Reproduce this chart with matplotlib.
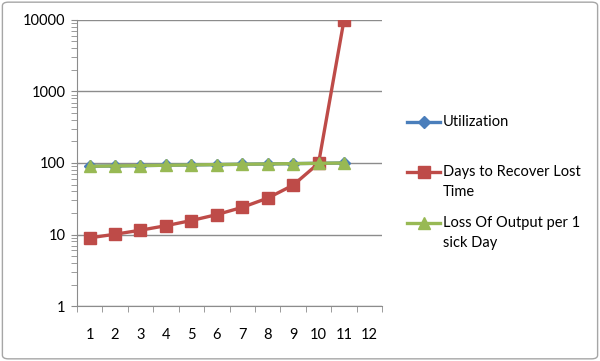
import matplotlib
matplotlib.use('Agg')
import matplotlib.pyplot as plt
from matplotlib.lines import Line2D
from matplotlib.patches import FancyBboxPatch
from matplotlib.ticker import LogLocator, FixedLocator, NullFormatter

# data
periods = [1, 2, 3, 4, 5, 6, 7, 8, 9, 10, 11]
x_labels = ['1', '2', '3', '4', '5', '6', '7', '8', '9', '10', '11', '12']
y_ticks = [1, 10, 100, 1000, 10000]
y_labels = ['1', '10', '100', '1000', '10000']
utilization = [90, 91, 92, 93, 94, 95, 96, 97, 98, 99, 99.99]
days_to_recover = [9, 10.1, 11.5, 13.3, 15.7, 19, 24, 32.3, 49, 99, 9999]
loss_of_output = [90, 91, 92, 93, 94, 95, 96, 97, 98, 99, 99.99]

series = [
    (utilization, ['Utilization'], '#4a7ebb', 'D', 6),
    (days_to_recover, ['Days to Recover Lost', 'Time'], '#be4b48', 's', 8),
    (loss_of_output, ['Loss Of Output per 1', 'sick Day'], '#98b954', '^', 8),
]

plt.rcParams['font.family'] = ['Lato', 'DejaVu Sans']

fig = plt.figure(figsize=(6.0, 3.61), dpi=100)
ax = fig.add_axes([0.128, 0.152, 0.509, 0.793])

# outer chart border
fig.patches.append(FancyBboxPatch((0.004, 0.006), 0.992, 0.988,
                                  boxstyle='round,pad=0,rounding_size=0.01',
                                  transform=fig.transFigure, fill=False,
                                  edgecolor='#a6a6a6', linewidth=1.0))

for i, (vals, label, color, marker, ms) in enumerate(series):
    ax.plot(periods, vals, color=color, lw=2.4, marker=marker,
            markersize=ms, zorder=3 + i)

ax.set_yscale('log')
ax.set_ylim(1, 10000)
ax.set_xlim(0.5, 12.5)

ax.yaxis.set_minor_locator(LogLocator(base=10, subs=range(2, 10), numticks=10))
ax.yaxis.set_minor_formatter(NullFormatter())
ax.set_yticks(y_ticks)
ax.set_yticklabels(y_labels)

ax.set_xticks(range(1, 13))
ax.set_xticklabels(x_labels)
ax.xaxis.set_minor_locator(FixedLocator([i + 0.5 for i in range(0, 13)]))
ax.tick_params(axis='x', which='major', length=0, pad=16, labelsize=10.5)
ax.tick_params(axis='x', which='minor', length=4, color='#8c8c8c')
ax.tick_params(axis='y', which='both', direction='out', length=4,
               color='#8c8c8c', labelsize=10.5, pad=4)

ax.grid(True, axis='y', which='major', color='#8c8c8c', linewidth=1.0)
ax.set_axisbelow(True)
for side in ('top', 'right'):
    ax.spines[side].set_visible(False)
for side in ('left', 'bottom'):
    ax.spines[side].set_color('#8c8c8c')

# legend drawn by hand so the key sits on the first text line
legend_rows = [122, 172, 223]   # pixel rows of each key, from the top
W, H = 600.0, 361.0
for (vals, label, color, marker, ms), row in zip(series, legend_rows):
    y = 1 - row / H
    fig.add_artist(Line2D([407 / W, 440 / W], [y, y], color=color, lw=2.4,
                          transform=fig.transFigure))
    fig.add_artist(Line2D([423.5 / W], [y], color=color, marker=marker,
                          markersize=ms, transform=fig.transFigure))
    for k, line in enumerate(label):
        fig.text(443 / W, 1 - (row + 20 * k) / H, line, fontsize=10.5,
                 va='center', ha='left')

fig.savefig('out.png', dpi=100)
